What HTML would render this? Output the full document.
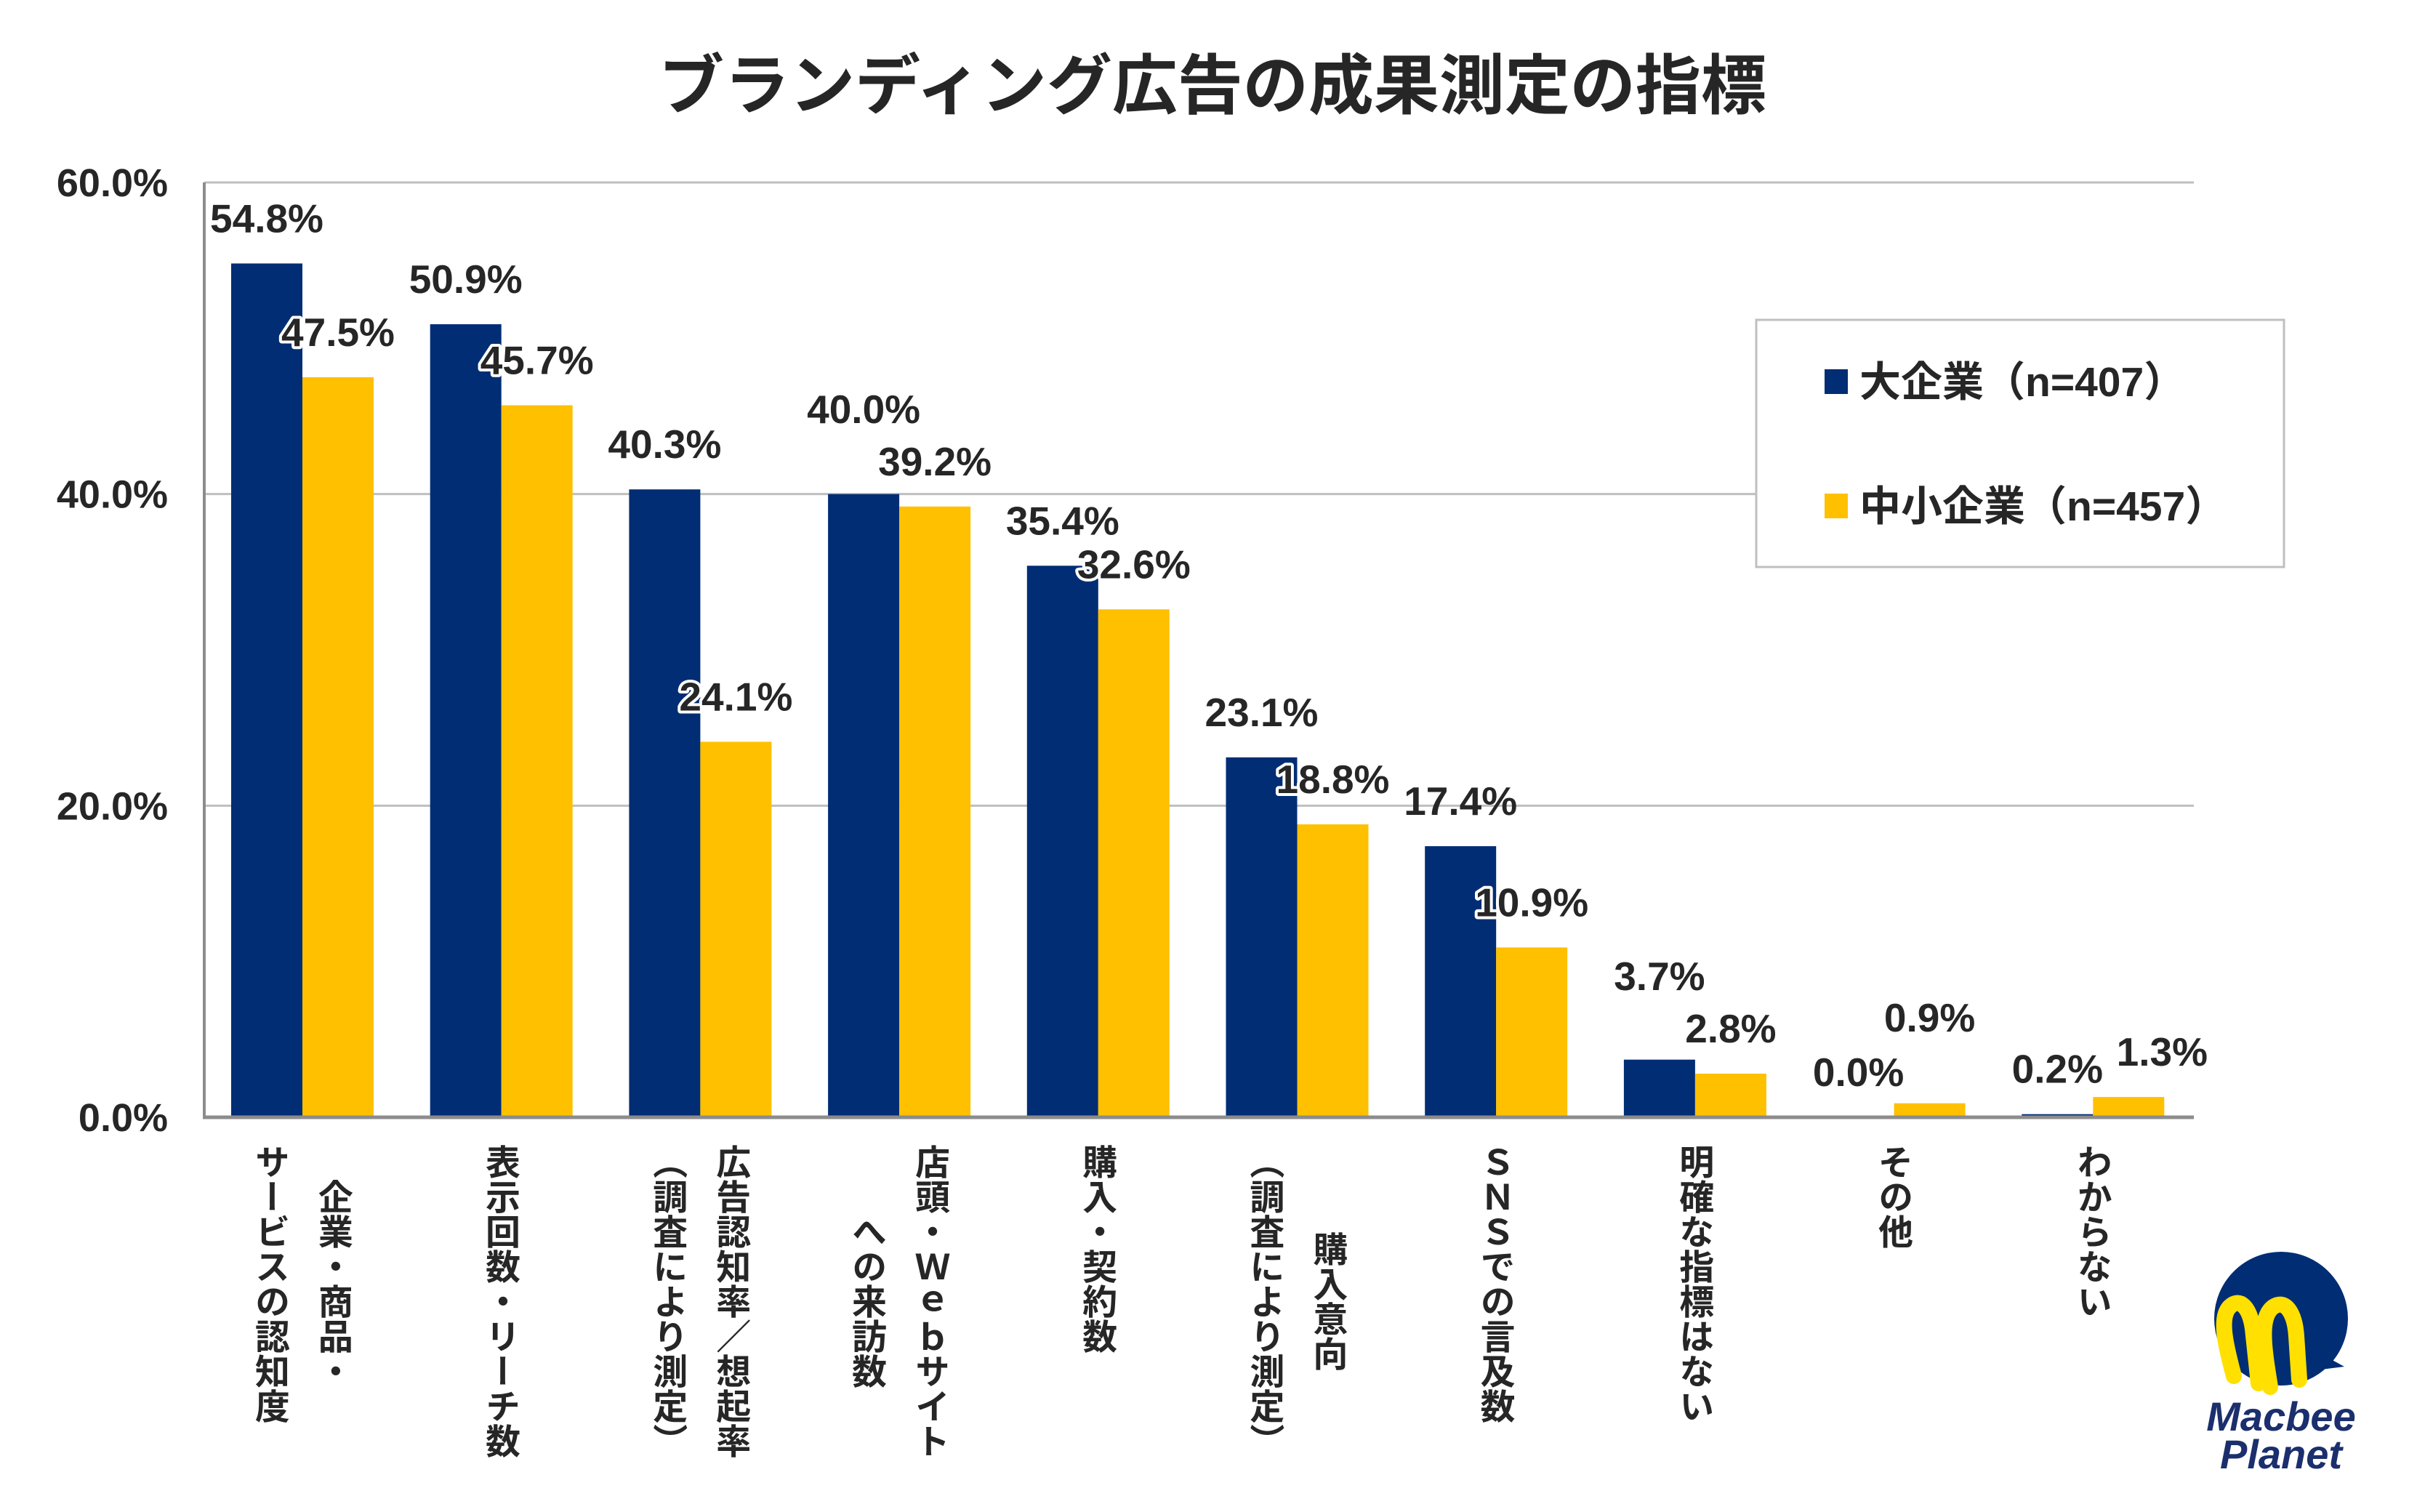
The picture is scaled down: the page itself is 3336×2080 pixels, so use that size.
<!DOCTYPE html>
<html><head><meta charset="utf-8">
<style>
html,body{margin:0;padding:0;background:#fff;}
body{width:3336px;height:2080px;position:relative;overflow:hidden;font-family:"Liberation Sans","Noto Sans CJK JP",sans-serif;color:#262626;}
.cat{position:absolute;top:1574px;writing-mode:vertical-rl;text-align:center;font-size:48px;font-weight:bold;line-height:87px;transform:translateX(-50%);white-space:nowrap;font-family:"Noto Sans CJK JP","Liberation Sans",sans-serif;}
#title{position:absolute;left:0;width:3336px;top:55px;text-align:center;font-size:90px;font-weight:bold;line-height:110px;font-family:"Noto Sans CJK JP",sans-serif;}
</style></head>
<body>
<div id="title">ブランディング広告の成果測定の指標</div>
<svg id="chart" width="3336" height="2080" style="position:absolute;left:0;top:0"></svg>
<div id="cats"></div>
<script>
const categories = [
  ["企業・商品・","サービスの認知度"],
  ["表示回数・リーチ数"],
  ["広告認知率／想起率","（調査により測定）"],
  ["店頭・Ｗｅｂサイト","への来訪数"],
  ["購入・契約数"],
  ["購入意向","（調査により測定）"],
  ["ＳＮＳでの言及数"],
  ["明確な指標はない"],
  ["その他"],
  ["わからない"]
];
const largeValues = [54.8, 50.9, 40.3, 40.0, 35.4, 23.1, 17.4, 3.7, 0.0, 0.2];
const smallValues = [47.5, 45.7, 24.1, 39.2, 32.6, 18.8, 10.9, 2.8, 0.9, 1.3];
const yTicks = [0, 20, 40, 60];
const tickLabels = ["0.0%", "20.0%", "40.0%", "60.0%"];
const seriesNames = ["大企業（n=407）", "中小企業（n=457）"];

const NS = "http://www.w3.org/2000/svg";
const svg = document.getElementById("chart");
const X0 = 281, X1 = 3018, Y0 = 1537, Y60 = 251;
const groupW = (X1 - X0) / categories.length;
const barW = 98, pad = 37;
function yScale(v){ return Y0 - (v / 60) * (Y0 - Y60); }
function xGroup(i){ return X0 + i * groupW; }
function mk(tag, attrs){ const e = document.createElementNS(NS, tag); for (const k in attrs) e.setAttribute(k, attrs[k]); svg.appendChild(e); return e; }

yTicks.forEach((t, i) => {
  const y = yScale(t);
  if (t > 0) {
    const g = mk("line", {x1: X0, x2: X1, y1: y, y2: y, stroke: "#BFBFBF", "stroke-width": 3});
    
    
  }
  const tl = mk("text", {x: 231, y: y + 19, "text-anchor": "end", "font-size": 54, "font-weight": "bold", fill: "#262626", "font-family": "Liberation Sans, sans-serif"});
  tl.textContent = tickLabels[i];
  
  
});
const ya = mk("line", {x1: X0, x2: X0, y1: Y60, y2: Y0 + 2, stroke: "#8C8C8C", "stroke-width": 4});



const colors = ["#002D74", "#FFC000"];
const labelInfo = [];
categories.forEach((c, i) => {
  const vals = [largeValues[i], smallValues[i]];
  const info = [];
  vals.forEach((v, s) => {
    const x = xGroup(i) + pad + s * barW;
    const y = yScale(v);
    const r = mk("rect", {x: x, y: y, width: barW, height: Y0 - y, fill: colors[s]});
    
    
    info.push({cx: x + barW / 2, by: y - 43, v: v});
  });
  const d = info[0].by - info[1].by;
  if (Math.abs(d) < 55) {
    if (info[0].by <= info[1].by) info[0].by = info[1].by - 72;
    else if (info[0].v > 0) info[1].cx += 46;
    else info[1].by = info[0].by - 75;
  }
  labelInfo.push(info);
});
const xa = mk("line", {x1: X0 - 2, x2: X1, y1: Y0, y2: Y0, stroke: "#8C8C8C", "stroke-width": 5});



labelInfo.forEach((info, i) => {
  info.forEach((l, s) => {
    const t = mk("text", {x: l.cx, y: l.by, "text-anchor": "middle", "font-size": 55, "font-weight": "bold", fill: "#262626", "font-family": "Liberation Sans, sans-serif"});
    if (s === 1) { t.setAttribute("stroke", "#fff"); t.setAttribute("stroke-width", 8); t.setAttribute("paint-order", "stroke"); t.setAttribute("stroke-linejoin", "round"); }
    t.textContent = l.v.toFixed(1) + "%";
    
    
  });
});

const lb = mk("rect", {x: 2416, y: 440, width: 726, height: 340, fill: "#fff", stroke: "#BFBFBF", "stroke-width": 3});


seriesNames.forEach((n, s) => {
  const y = 524 + s * 171;
  const sw = mk("rect", {x: 2510, y: y - 16, width: 32, height: 34, fill: colors[s]});
  
  
  const t = mk("text", {x: 2558, y: y + 21, "font-size": 57, "font-weight": "bold", fill: "#262626", "font-family": "Liberation Sans, Noto Sans CJK JP, sans-serif"});
  t.textContent = n;
  
  
});

const cats = document.getElementById("cats");
categories.forEach((c, i) => {
  const d = document.createElement("div");
  d.className = "cat";
  d.style.left = (xGroup(i) + groupW / 2) + "px";
  d.innerHTML = c.join("<br>");
  
  
  cats.appendChild(d);
});
</script>
<svg width="270" height="320" style="position:absolute;left:3003px;top:1718px">
  <circle cx="135" cy="96" r="92" fill="#002D74"/>
  <path d="M200 150 L222 162 L190 166 Z" fill="#002D74"/>
  <path d="M70 175 C58 130 50 95 64 80 C78 66 92 80 96 110 L104 185" fill="none" stroke="#FFE000" stroke-width="22" stroke-linecap="round"/>
  <path d="M120 190 C112 140 104 95 124 80 C142 68 154 90 156 120 L160 180" fill="none" stroke="#FFE000" stroke-width="22" stroke-linecap="round"/>
  <text x="135" y="250" text-anchor="middle" font-size="56" font-weight="bold" font-style="italic" fill="#1B2F6E" font-family="Liberation Sans, sans-serif">Macbee</text>
  <text x="135" y="302" text-anchor="middle" font-size="56" font-weight="bold" font-style="italic" fill="#1B2F6E" font-family="Liberation Sans, sans-serif">Planet</text>
</svg>
</body></html>
